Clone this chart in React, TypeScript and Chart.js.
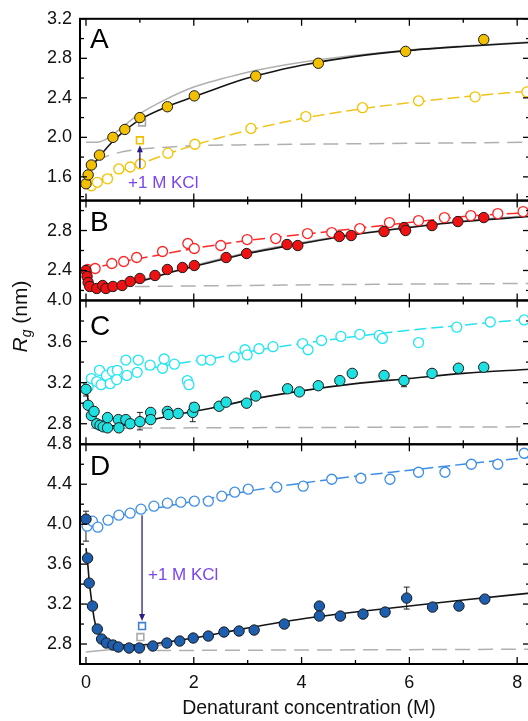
import React, { useEffect, useRef } from 'react';
import { Chart, registerables } from 'chart.js';

Chart.register(...registerables);

const FONT = '"Liberation Sans", Arial, Helvetica, sans-serif';

// ---------- axes ----------
const X_MIN = -0.111;
const X_MAX = 8.238;
const X_TICKS = [0, 2, 4, 6, 8];
const X_MINOR = [1, 3, 5, 7];
const A_RANGE = [1.36, 3.2];
const B_RANGE = [2.1, 3.1];
const C_RANGE = [2.6, 4.0];
const D_RANGE = [2.6, 4.8];
const A_TICKS = [1.6, 2.0, 2.4, 2.8, 3.2];
const B_TICKS = [2.4, 2.8];
const C_TICKS = [2.8, 3.2, 3.6, 4.0];
const D_TICKS = [2.8, 3.2, 3.6, 4.0, 4.4, 4.8];

// ---------- panel A ----------
const aFilledX = [0, 0.04, 0.1, 0.25, 0.5, 0.72, 1.0, 1.51, 2.01, 3.15, 4.31, 5.93, 7.38];
const aFilledY = [1.53, 1.62, 1.72, 1.82, 2.0, 2.08, 2.2, 2.31, 2.42, 2.62, 2.75, 2.87, 2.99];
const aOpenX = [0.1, 0.21, 0.4, 0.61, 0.82, 1.01, 1.52, 2.02, 3.06, 4.08, 5.13, 6.17, 7.22, 8.18];
const aOpenY = [1.51, 1.545, 1.58, 1.68, 1.7, 1.73, 1.84, 1.93, 2.09, 2.21, 2.3, 2.37, 2.41, 2.46];
const aFitX = [0, 0.05, 0.1, 0.2, 0.3, 0.5, 0.75, 1.0, 1.5, 2.0, 2.5, 3.0, 3.5, 4.0, 5.0, 6.0, 7.0, 8.24];
const aFitY = [1.53, 1.62, 1.69, 1.77, 1.84, 1.96, 2.08, 2.18, 2.31, 2.41, 2.51, 2.6, 2.67, 2.73, 2.82, 2.88, 2.92, 2.96];
const aGrayX = [0, 0.2, 0.4, 0.6, 0.8, 1.0, 1.5, 2.0, 2.5, 3.0, 4.0, 5.0, 6.0, 7.0, 8.24];
const aGrayY = [1.95, 1.95, 1.99, 2.07, 2.16, 2.24, 2.39, 2.51, 2.59, 2.66, 2.76, 2.83, 2.885, 2.925, 2.965];
const aBaseX = [0.17, 0.5, 1, 1.5, 2, 3, 5, 8.24];
const aBaseY = [1.76, 1.83, 1.88, 1.9, 1.915, 1.925, 1.935, 1.95];
const aSaltX = [0, 0.2, 0.5, 1.0, 1.5, 2.0, 3.0, 4.0, 5.0, 6.0, 7.0, 8.24];
const aSaltY = [1.5, 1.55, 1.63, 1.73, 1.83, 1.92, 2.07, 2.19, 2.28, 2.35, 2.41, 2.47];
const aSquareX = [1.0];
const aSquareY = [1.97];
const aGraySquareX = [1.04];
const aGraySquareY = [2.15];
const aErrX = [0.61];
const aErrLo = [1.64];
const aErrHi = [1.72];
const aArrow = [1.0, 1.69, 1.92]; // x, from, to
const aLabelAt = [0.78, 1.49];

// ---------- panel B ----------
const bFilledX = [0, 0.02, 0.04, 0.07, 0.2, 0.31, 0.37, 0.5, 0.67, 0.82, 1.0, 1.28, 1.51, 1.79, 2.01, 2.6, 2.98, 3.73, 3.93, 4.7, 4.92, 5.53, 5.9, 5.93, 6.42, 6.9, 7.38];
const bFilledY = [2.4, 2.34, 2.28, 2.24, 2.22, 2.25, 2.22, 2.24, 2.25, 2.29, 2.32, 2.35, 2.41, 2.43, 2.45, 2.53, 2.57, 2.66, 2.65, 2.74, 2.75, 2.79, 2.83, 2.8, 2.85, 2.89, 2.93];
const bOpenX = [0.03, 0.17, 0.48, 0.7, 0.94, 1.42, 1.89, 2.01, 2.5, 2.99, 3.52, 4.11, 4.56, 5.08, 5.63, 6.17, 6.65, 7.14, 7.64, 8.11];
const bOpenY = [2.41, 2.42, 2.47, 2.49, 2.53, 2.59, 2.67, 2.62, 2.65, 2.71, 2.72, 2.77, 2.78, 2.82, 2.88, 2.9, 2.93, 2.95, 2.97, 2.99];
const bFitX = [0, 0.05, 0.1, 0.2, 0.4, 0.6, 1.0, 1.5, 2.0, 3.0, 4.0, 5.0, 6.0, 7.0, 8.24];
const bFitY = [2.41, 2.29, 2.24, 2.22, 2.225, 2.24, 2.29, 2.37, 2.44, 2.57, 2.67, 2.76, 2.83, 2.89, 2.94];
const bGrayX = [0.05, 0.2, 0.5, 1.0, 2.0, 3.0, 4.0, 5.0, 6.0, 7.0, 8.24];
const bGrayY = [2.23, 2.23, 2.245, 2.3, 2.45, 2.58, 2.68, 2.765, 2.835, 2.895, 2.95];
const bBaseX = [0.05, 1, 3, 5, 8.24];
const bBaseY = [2.235, 2.24, 2.25, 2.26, 2.27];
const bSaltX = [0, 0.5, 1, 1.5, 2, 3, 4, 5, 6, 7, 8.24];
const bSaltY = [2.4, 2.47, 2.52, 2.57, 2.62, 2.7, 2.76, 2.82, 2.88, 2.94, 2.98];

// ---------- panel C ----------
const cFilledX = [0, 0.04, 0.1, 0.15, 0.2, 0.26, 0.32, 0.4, 0.4, 0.6, 0.61, 0.74, 0.82, 1.0, 1.2, 1.2, 1.51, 1.53, 1.71, 1.98, 2.01, 2.47, 2.6, 2.98, 3.15, 3.74, 3.96, 4.31, 4.71, 4.94, 5.53, 5.9, 6.42, 6.91, 7.38];
const cFilledY = [3.135, 2.98, 2.88, 2.92, 2.8, 2.785, 2.77, 2.76, 2.86, 2.84, 2.76, 2.84, 2.8, 2.82, 2.91, 2.84, 2.92, 2.89, 2.9, 2.91, 2.96, 2.97, 3.01, 3.0, 3.07, 3.14, 3.11, 3.17, 3.22, 3.29, 3.27, 3.22, 3.29, 3.34, 3.35];
const cOpenX = [0.04, 0.1, 0.2, 0.25, 0.28, 0.38, 0.45, 0.49, 0.58, 0.57, 0.74, 0.76, 0.95, 0.97, 1.19, 1.42, 1.45, 1.64, 1.88, 1.91, 2.15, 2.31, 2.75, 2.95, 2.99, 3.21, 3.47, 4.02, 4.12, 4.37, 4.73, 5.08, 5.44, 5.5, 6.17, 6.88, 7.5, 8.13];
const cOpenY = [3.16, 3.24, 3.21, 3.32, 3.18, 3.27, 3.19, 3.31, 3.32, 3.23, 3.42, 3.27, 3.3, 3.42, 3.37, 3.34, 3.43, 3.38, 3.22, 3.18, 3.42, 3.42, 3.45, 3.52, 3.47, 3.53, 3.55, 3.58, 3.52, 3.61, 3.65, 3.67, 3.66, 3.63, 3.59, 3.74, 3.79, 3.81];
const cFitX = [0, 0.05, 0.1, 0.2, 0.3, 0.5, 0.8, 1.0, 1.5, 2.0, 2.5, 3.0, 4.0, 5.0, 6.0, 7.0, 8.24];
const cFitY = [3.16, 3.0, 2.9, 2.82, 2.79, 2.78, 2.79, 2.81, 2.87, 2.92, 2.97, 3.03, 3.12, 3.19, 3.24, 3.29, 3.33];
const cBaseX = [0.1, 2, 5, 8.24];
const cBaseY = [2.755, 2.76, 2.765, 2.77];
const cSaltX = [1.1, 1.5, 2, 2.5, 3, 4, 5, 6, 7, 8.24];
const cSaltY = [3.33, 3.37, 3.41, 3.45, 3.5, 3.58, 3.65, 3.71, 3.76, 3.82];
const cErrX = [0, 1.0, 1.98, 5.9];
const cErrLo = [3.07, 2.74, 2.82, 3.16];
const cErrHi = [3.19, 2.91, 3.0, 3.27];

// ---------- panel D ----------
const dFilledX = [0, 0.03, 0.06, 0.12, 0.21, 0.29, 0.38, 0.5, 0.6, 0.8, 0.99, 1.24, 1.5, 1.74, 1.99, 2.27, 2.56, 2.84, 3.12, 3.68, 4.33, 4.33, 4.72, 5.14, 5.55, 5.95, 6.43, 6.92, 7.4];
const dFilledY = [4.05, 3.66, 3.41, 3.18, 2.95, 2.85, 2.81, 2.79, 2.77, 2.76, 2.76, 2.78, 2.81, 2.83, 2.86, 2.88, 2.92, 2.93, 2.94, 3.0, 3.18, 3.08, 3.08, 3.1, 3.12, 3.26, 3.17, 3.18, 3.25];
const dOpenX = [0.02, 0.12, 0.22, 0.41, 0.61, 0.82, 1.02, 1.26, 1.51, 1.76, 2.01, 2.27, 2.52, 2.76, 3.01, 3.54, 4.03, 4.56, 5.1, 5.64, 6.17, 6.66, 7.15, 7.64, 8.13];
const dOpenY = [3.98, 4.03, 3.97, 4.04, 4.09, 4.11, 4.15, 4.18, 4.21, 4.22, 4.23, 4.23, 4.28, 4.32, 4.35, 4.37, 4.38, 4.45, 4.46, 4.45, 4.52, 4.52, 4.6, 4.6, 4.71];
const dFitX = [0, 0.03, 0.06, 0.1, 0.15, 0.2, 0.3, 0.45, 0.7, 1.0, 1.5, 2.0, 2.5, 3.0, 4.0, 5.0, 6.0, 7.0, 8.24];
const dFitY = [3.76, 3.62, 3.43, 3.25, 3.06, 2.95, 2.86, 2.81, 2.79, 2.79, 2.82, 2.86, 2.91, 2.96, 3.05, 3.12, 3.18, 3.24, 3.31];
const dGrayX = [0, 0.5, 1.0, 1.4];
const dGrayY = [2.72, 2.745, 2.77, 2.79];
const dBaseX = [1.3, 4, 8.24];
const dBaseY = [2.735, 2.74, 2.748];
const dSaltX = [0, 0.5, 1, 1.5, 2, 2.5, 3, 4, 5, 6, 7, 8.24];
const dSaltY = [4.01, 4.07, 4.13, 4.18, 4.23, 4.28, 4.33, 4.41, 4.48, 4.54, 4.6, 4.67];
const dSquareX = [1.04];
const dSquareY = [2.98];
const dGraySquareX = [1.01];
const dGraySquareY = [2.87];
const dErrX = [0, 5.95];
const dErrLo = [3.83, 3.15];
const dErrHi = [4.13, 3.37];
const dArrow = [1.04, 4.09, 3.03];
const dLabelAt = [1.15, 3.44];

const LABEL_KCL = '+1 M KCl';
const X_TITLE = 'Denaturant concentration (M)';

const pts = (xs: number[], ys: number[]) => xs.map((x, i) => ({ x, y: ys[i] }));

const filled = (xs: number[], ys: number[], yAxisID: string, color: string) => ({
  type: 'scatter', data: pts(xs, ys), yAxisID, xAxisID: 'x', showLine: false,
  pointRadius: 5.2, pointBackgroundColor: color, pointBorderColor: '#1a1a1a', pointBorderWidth: 1,
});
const open = (xs: number[], ys: number[], yAxisID: string, color: string) => ({
  type: 'scatter', data: pts(xs, ys), yAxisID, xAxisID: 'x', showLine: false,
  pointRadius: 5, pointBackgroundColor: '#ffffff', pointBorderColor: color, pointBorderWidth: 1.3,
});
const square = (xs: number[], ys: number[], yAxisID: string, color: string) => ({
  type: 'scatter', data: pts(xs, ys), yAxisID, xAxisID: 'x', showLine: false, pointStyle: 'rect',
  pointRadius: 4.8, pointBackgroundColor: '#ffffff', pointBorderColor: color, pointBorderWidth: 1.6,
});
const curve = (xs: number[], ys: number[], yAxisID: string, color: string, dash: number[] = [], width = 1.5) => ({
  type: 'line', data: pts(xs, ys), yAxisID, xAxisID: 'x', borderColor: color, borderWidth: width,
  borderDash: dash, pointRadius: 0, cubicInterpolationMode: 'monotone', fill: false,
});

const yScale = (range: number[], ticks: number[], weight: number, stackWeight: number) => ({
  type: 'linear', position: 'left', stack: 'rg', stackWeight, weight,
  min: range[0], max: range[1],
  grid: { display: false, drawTicks: false }, border: { display: false },
  ticks: {
    font: { size: 18, family: FONT }, color: '#111', padding: 8, autoSkip: false,
    callback: (v: any) => Number(v).toFixed(1),
  },
  afterBuildTicks: (s: any) => { s.ticks = ticks.map((v) => ({ value: v })); },
  afterFit: (s: any) => { s.width = 80; },
});

const PANELS = ['yA', 'yB', 'yC', 'yD'];
const LETTERS = ['A', 'B', 'C', 'D'];
const LETTER_BASE = [29, 30, 35, 31];

const decor = {
  id: 'decor',
  beforeDatasetsDraw(chart: any) {
    const ctx = chart.ctx;
    const xs = chart.scales.x;
    const bars = (id: string, X: number[], lo: number[], hi: number[], color: string) => {
      const s = chart.scales[id];
      ctx.save();
      ctx.strokeStyle = color;
      ctx.lineWidth = 1;
      X.forEach((x, i) => {
        const px = xs.getPixelForValue(x);
        const p0 = s.getPixelForValue(lo[i]);
        const p1 = s.getPixelForValue(hi[i]);
        ctx.beginPath();
        ctx.moveTo(px, p0); ctx.lineTo(px, p1);
        ctx.moveTo(px - 3, p0); ctx.lineTo(px + 3, p0);
        ctx.moveTo(px - 3, p1); ctx.lineTo(px + 3, p1);
        ctx.stroke();
      });
      ctx.restore();
    };
    bars('yA', aErrX, aErrLo, aErrHi, '#e8b800');
    bars('yC', cErrX, cErrLo, cErrHi, '#222');
    bars('yD', dErrX, dErrLo, dErrHi, '#222');
  },
  afterDatasetsDraw(chart: any) {
    const ctx = chart.ctx;
    const xs = chart.scales.x;
    const arrow = (id: string, a: number[]) => {
      const s = chart.scales[id];
      const px = xs.getPixelForValue(a[0]);
      const p0 = s.getPixelForValue(a[1]);
      const p1 = s.getPixelForValue(a[2]);
      const dir = p1 > p0 ? 1 : -1;
      ctx.save();
      ctx.strokeStyle = '#2b1d86';
      ctx.fillStyle = '#2b1d86';
      ctx.lineWidth = 1.3;
      ctx.beginPath();
      ctx.moveTo(px, p0); ctx.lineTo(px, p1 - dir * 5);
      ctx.stroke();
      ctx.beginPath();
      ctx.moveTo(px, p1); ctx.lineTo(px - 3, p1 - dir * 7); ctx.lineTo(px + 3, p1 - dir * 7);
      ctx.closePath(); ctx.fill();
      ctx.restore();
    };
    arrow('yA', aArrow);
    arrow('yD', dArrow);
    const label = (id: string, at: number[]) => {
      const s = chart.scales[id];
      ctx.save();
      ctx.fillStyle = '#7a45ee';
      ctx.font = `17px ${FONT}`;
      ctx.textAlign = 'left';
      ctx.textBaseline = 'alphabetic';
      ctx.fillText(LABEL_KCL, xs.getPixelForValue(at[0]), s.getPixelForValue(at[1]));
      ctx.restore();
    };
    label('yA', aLabelAt);
    label('yD', dLabelAt);
  },
  afterDraw(chart: any) {
    const ctx = chart.ctx;
    const xs = chart.scales.x;
    const { left, right } = chart.chartArea;
    ctx.save();
    ctx.strokeStyle = '#000';
    const seg = (x0: number, y0: number, x1: number, y1: number) => {
      ctx.beginPath(); ctx.moveTo(x0, y0); ctx.lineTo(x1, y1); ctx.stroke();
    };
    PANELS.forEach((id, k) => {
      const s = chart.scales[id];
      const top = s.top;
      const bottom = s.bottom;
      ctx.lineWidth = 1.3;
      X_TICKS.forEach((v) => {
        const px = xs.getPixelForValue(v);
        seg(px, bottom, px, bottom - 7);
        seg(px, top, px, top + 7);
      });
      X_MINOR.forEach((v) => {
        const px = xs.getPixelForValue(v);
        seg(px, bottom, px, bottom - 4);
        seg(px, top, px, top + 4);
      });
      const k0 = Math.ceil(s.min * 5 - 1e-6);
      const k1 = Math.floor(s.max * 5 + 1e-6);
      for (let q = k0; q <= k1; q++) {
        const py = s.getPixelForValue(q / 5);
        const len = q % 2 === 0 ? 7 : 4;
        seg(left, py, left + len, py);
        seg(right, py, right - len, py);
      }
      ctx.lineWidth = 2;
      ctx.strokeRect(left, top, right - left, bottom - top);
      ctx.fillStyle = '#000';
      ctx.font = `28px ${FONT}`;
      ctx.textAlign = 'left';
      ctx.textBaseline = 'alphabetic';
      ctx.fillText(LETTERS[k], left + 10, top + LETTER_BASE[k]);
    });
    // x title
    ctx.fillStyle = '#111';
    ctx.font = `19.5px ${FONT}`;
    ctx.textAlign = 'center';
    ctx.textBaseline = 'alphabetic';
    ctx.fillText(X_TITLE, 309, 714);
    // y title
    ctx.translate(27, 316.5);
    ctx.rotate(-Math.PI / 2);
    const big = `italic 21px ${FONT}`;
    const sub = `italic 14px ${FONT}`;
    const rest = `21px ${FONT}`;
    ctx.font = big; const wR = ctx.measureText('R').width;
    ctx.font = sub; const wg = ctx.measureText('g').width;
    ctx.font = rest; const wr = ctx.measureText(' (nm)').width;
    let x0 = -(wR + wg + wr) / 2;
    ctx.textAlign = 'left';
    ctx.font = big; ctx.fillText('R', x0, 0); x0 += wR;
    ctx.font = sub; ctx.fillText('g', x0, 4); x0 += wg;
    ctx.font = rest; ctx.fillText(' (nm)', x0, 0);
    ctx.restore();
  },
};

export default function App() {
  const ref = useRef<HTMLCanvasElement>(null);
  useEffect(() => {
    const GRAY = '#b0b0b0';
    const BLACK = '#151515';
    const datasets: any[] = [
      square(aSquareX, aSquareY, 'yA', '#f0c000'),
      square(dSquareX, dSquareY, 'yD', '#3d7fd0'),
      filled(aFilledX, aFilledY, 'yA', '#f3c000'),
      filled(bFilledX, bFilledY, 'yB', '#f01212'),
      filled(cFilledX, cFilledY, 'yC', '#1fe0e0'),
      filled(dFilledX, dFilledY, 'yD', '#1d5fae'),
      open(aOpenX, aOpenY, 'yA', '#f2c200'),
      open(bOpenX, bOpenY, 'yB', '#ff2525'),
      open(cOpenX, cOpenY, 'yC', '#1ee6f2'),
      open(dOpenX, dOpenY, 'yD', '#3d8ee6'),
      square(aGraySquareX, aGraySquareY, 'yA', '#aaaaaa'),
      square(dGraySquareX, dGraySquareY, 'yD', '#aaaaaa'),
      curve(aFitX, aFitY, 'yA', BLACK, [], 1.6),
      curve(bFitX, bFitY, 'yB', BLACK, [], 1.6),
      curve(cFitX, cFitY, 'yC', BLACK, [], 1.6),
      curve(dFitX, dFitY, 'yD', BLACK, [], 1.6),
      curve(aGrayX, aGrayY, 'yA', GRAY),
      curve(bGrayX, bGrayY, 'yB', GRAY),
      curve(dGrayX, dGrayY, 'yD', GRAY),
      curve(aBaseX, aBaseY, 'yA', GRAY, [15, 8]),
      curve(bBaseX, bBaseY, 'yB', GRAY, [15, 8]),
      curve(cBaseX, cBaseY, 'yC', GRAY, [15, 8]),
      curve(dBaseX, dBaseY, 'yD', GRAY, [15, 8]),
      curve(aSaltX, aSaltY, 'yA', '#f0c41a', [12, 5]),
      curve(bSaltX, bSaltY, 'yB', '#ff2a2a', [12, 5]),
      curve(cSaltX, cSaltY, 'yC', '#25e3f0', [12, 5]),
      curve(dSaltX, dSaltY, 'yD', '#3d8ee6', [12, 5]),
    ];
    const chart = new Chart(ref.current as HTMLCanvasElement, {
      type: 'scatter',
      data: { datasets },
      options: {
        responsive: false,
        animation: false,
        events: [],
        layout: { padding: { left: 0, right: 10, top: 18, bottom: 0 } },
        plugins: { legend: { display: false }, tooltip: { enabled: false } },
        scales: {
          x: {
            type: 'linear', position: 'bottom', min: X_MIN, max: X_MAX,
            grid: { display: false, drawTicks: false }, border: { display: false },
            ticks: { font: { size: 18, family: FONT }, color: '#111', padding: 8, autoSkip: false, callback: (v: any) => String(v) },
            afterBuildTicks: (s: any) => { s.ticks = X_TICKS.map((v) => ({ value: v })); },
            afterFit: (s: any) => { s.height = 57; },
          },
          yA: yScale(A_RANGE, A_TICKS, 4, 182),
          yB: yScale(B_RANGE, B_TICKS, 3, 100),
          yC: yScale(C_RANGE, C_TICKS, 2, 144),
          yD: yScale(D_RANGE, D_TICKS, 1, 220),
        },
      } as any,
      plugins: [decor],
    } as any);
    return () => chart.destroy();
  }, []);
  return (
    <div style={{ position: 'fixed', left: 0, top: 0, width: 528, height: 721, overflow: 'hidden', background: '#fff' }}>
      <canvas ref={ref} width={540} height={721} style={{ display: 'block' }} />
    </div>
  );
}
